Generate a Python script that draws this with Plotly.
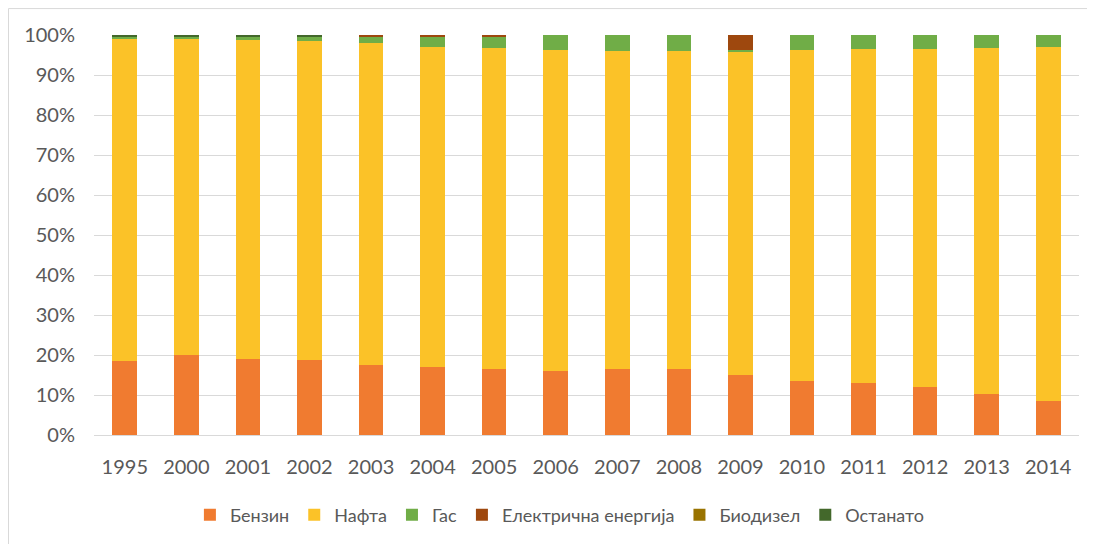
import plotly.graph_objects as go

years = ["1995", "2000", "2001", "2002", "2003", "2004", "2005", "2006",
         "2007", "2008", "2009", "2010", "2011", "2012", "2013", "2014"]

benzin = [18.5, 20.0, 19.1, 18.8, 17.5, 17.0, 16.6, 16.0,
          16.4, 16.4, 15.1, 13.5, 13.0, 12.0, 10.2, 8.4]
nafta = [80.7, 78.9, 79.6, 79.6, 80.6, 80.1, 80.2, 80.3,
         79.5, 79.5, 80.8, 82.7, 83.5, 84.5, 86.6, 88.7]
gas = [0.2, 0.7, 1.0, 1.3, 1.5, 2.4, 2.9, 3.7,
       4.1, 4.1, 0.3, 3.8, 3.5, 3.5, 3.2, 2.9]
elektricna = [0.0, 0.0, 0.0, 0.0, 0.4, 0.5, 0.3, 0.0,
              0.0, 0.0, 3.8, 0.0, 0.0, 0.0, 0.0, 0.0]
biodizel = [0.0, 0.0, 0.0, 0.0, 0.0, 0.0, 0.0, 0.0,
            0.0, 0.0, 0.0, 0.0, 0.0, 0.0, 0.0, 0.0]
ostanato = [0.6, 0.4, 0.3, 0.3, 0.0, 0.0, 0.0, 0.0,
            0.0, 0.0, 0.0, 0.0, 0.0, 0.0, 0.0, 0.0]

series = [
    ("Бензин", benzin, "#F07B30"),
    ("Нафта", nafta, "#FBC228"),
    ("Гас", gas, "#70AD47"),
    ("Електрична енергија", elektricna, "#9E480E"),
    ("Биодизел", biodizel, "#997300"),
    ("Останато", ostanato, "#43682B"),
]

fig = go.Figure()
for name, vals, col in series:
    fig.add_trace(go.Bar(
        x=years, y=vals, name=name,
        marker=dict(color=col, line=dict(width=0)),
    ))

W, H = 1087, 536
L, R, T, B = 86, 16, 27, 108
pw, ph = W - L - R, H - T - B

fig.update_layout(
    barmode="stack",
    barnorm="percent",
    bargap=0.6,
    width=W, height=H,
    margin=dict(l=L, r=R, t=T, b=B),
    paper_bgcolor="white",
    plot_bgcolor="white",
    font=dict(family="Lato, 'Open Sans', sans-serif", color="#595959", size=18),
    showlegend=True,
    legend=dict(
        orientation="h", x=0.473, xanchor="center",
        y=-79 / ph, yanchor="middle",
        font=dict(size=18, color="#595959"),
        traceorder="normal",
        itemwidth=30,
    ),
    xaxis=dict(
        showgrid=False, showline=True, linecolor="#D9D9D9", linewidth=1,
        ticks="outside", ticklen=14, tickcolor="rgba(0,0,0,0)",
        tickfont=dict(size=20, color="#595959"),
    ),
    yaxis=dict(
        range=[0, 100], dtick=10, ticksuffix="%",
        showgrid=True, gridcolor="#D9D9D9", gridwidth=1,
        zeroline=False, showline=False,
        tickfont=dict(size=20, color="#595959"),
        ticks="outside", ticklen=14, tickcolor="rgba(0,0,0,0)",
    ),
    shapes=[dict(
        type="rect", xref="paper", yref="paper",
        x0=(-L + 0.5) / pw, x1=1.2, y0=-0.6, y1=1 + (T - 0.5) / ph,
        line=dict(color="#D9D9D9", width=1), fillcolor="rgba(0,0,0,0)",
        layer="below",
    )],
)

fig.write_html("out.html")
